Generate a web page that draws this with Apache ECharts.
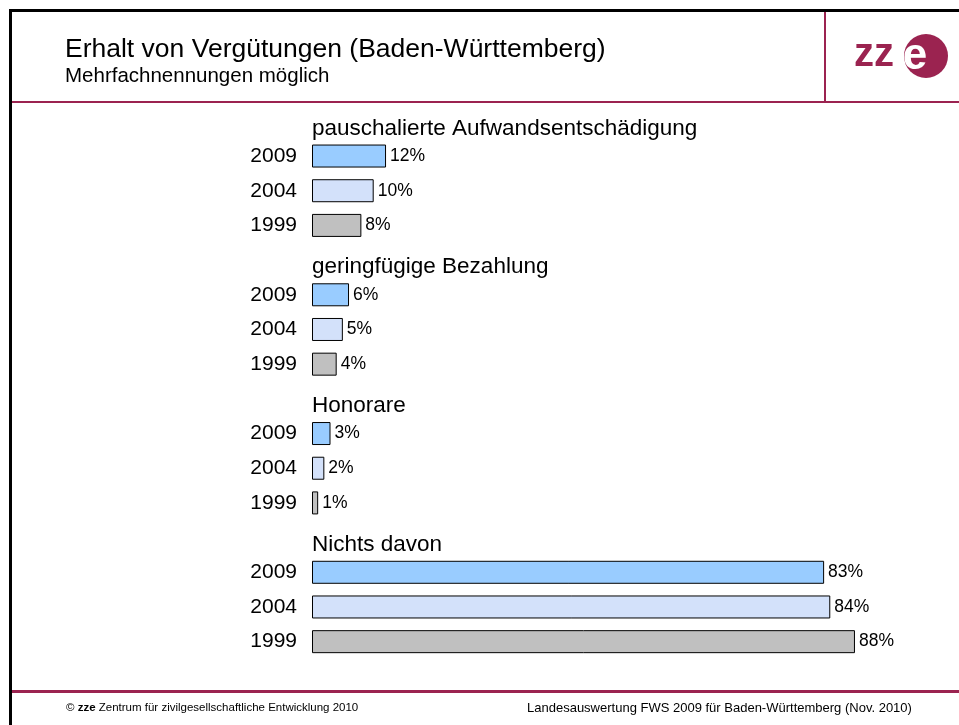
<!DOCTYPE html>
<html>
<head>
<meta charset="utf-8">
<title>Erhalt von Vergütungen</title>
<script src="https://cdn.jsdelivr.net/npm/echarts@6/dist/echarts.min.js"></script>
<style>
  html, body { margin: 0; padding: 0; background: #fff; }
  #chart { width: 959px; height: 725px; }
</style>
</head>
<body>
<div id="chart"></div>
<script>
// Daten
var groups = ['pauschalierte Aufwandsentschädigung', 'geringfügige Bezahlung', 'Honorare', 'Nichts davon'];
var years = ['2009', '2004', '1999'];
var values2009 = [12, 6, 3, 83];
var values2004 = [10, 5, 2, 84];
var values1999 = [8, 4, 1, 88];
var yearColors = ['#99CCFF', '#D3E1FA', '#C0C0C0'];

var maroon = '#9B2350';
var font = '"Liberation Sans", Arial, sans-serif';

// pro Gruppe: eine Kopfzeile + drei Jahreszeilen
var rows = [];
var barData = [];
var headData = [];
for (var g = 0; g < groups.length; g++) {
    rows.push('h' + g);
    barData.push('-');
    headData.push({ value: [0, 'h' + g], name: groups[g] });
    var vals = [values2009[g], values2004[g], values1999[g]];
    for (var y = 0; y < years.length; y++) {
        rows.push(years[y] + '_' + g);
        barData.push({ value: vals[y], itemStyle: { color: yearColors[y] } });
    }
}

var myChart = echarts.init(document.getElementById('chart'), null, { renderer: 'canvas' });

var option = {
    animation: false,
    backgroundColor: '#fff',
    textStyle: { fontFamily: font },
    title: {
        text: 'Erhalt von Vergütungen (Baden-Württemberg)',
        subtext: 'Mehrfachnennungen möglich',
        left: 60,
        top: 31,
        itemGap: 3,
        textStyle: { fontFamily: font, fontSize: 26.5, fontWeight: 'normal', color: '#000' },
        subtextStyle: { fontFamily: font, fontSize: 20.5, color: '#000' }
    },
    grid: { left: 312, right: 30, top: 104, bottom: 66, containLabel: false },
    xAxis: {
        type: 'value',
        min: 0,
        max: 100,
        show: false
    },
    yAxis: {
        type: 'category',
        data: rows,
        inverse: true,
        axisLine: { show: false },
        axisTick: { show: false },
        splitLine: { show: false },
        axisLabel: {
            margin: 15,
            fontSize: 21,
            color: '#000',
            fontFamily: font,
            formatter: function (v) {
                return v.charAt(0) === 'h' ? '' : v.split('_')[0];
            }
        }
    },
    series: [
        {
            type: 'bar',
            data: barData,
            barWidth: 23,
            itemStyle: { borderColor: '#000', borderWidth: 1 },
            label: {
                show: true,
                position: 'right',
                distance: 4,
                fontSize: 17.5,
                color: '#000',
                fontFamily: font,
                formatter: '{c}%'
            }
        },
        {
            type: 'scatter',
            data: headData,
            symbol: 'rect',
            symbolSize: 0,
            itemStyle: { color: '#000', opacity: 1 },
            silent: true,
            label: {
                show: true,
                position: 'right',
                distance: 0,
                offset: [0, 7],
                fontSize: 22.5,
                color: '#000',
                fontFamily: font,
                formatter: function (p) { return p.name; }
            }
        }
    ],
    graphic: [
        // Rahmen
        { type: 'rect', shape: { x: 9, y: 9, width: 960, height: 3 }, style: { fill: '#000' } },
        { type: 'rect', shape: { x: 9, y: 9, width: 3, height: 720 }, style: { fill: '#000' } },
        // Kopf- und Fußlinien
        { type: 'rect', shape: { x: 12, y: 101, width: 950, height: 2 }, style: { fill: maroon } },
        { type: 'rect', shape: { x: 824, y: 12, width: 2, height: 90 }, style: { fill: maroon } },
        { type: 'rect', shape: { x: 12, y: 690, width: 950, height: 3 }, style: { fill: maroon } },
        // Logo
        {
            type: 'text',
            style: {
                x: 854, y: 55, text: 'zz', fontSize: 40, fontWeight: 'bold', fill: maroon,
                fontFamily: font, align: 'left', verticalAlign: 'middle'
            }
        },
        { type: 'circle', shape: { cx: 926, cy: 56, r: 22 }, style: { fill: maroon } },
        {
            type: 'text',
            style: {
                x: 915, y: 57, text: 'e', fontSize: 44, fontWeight: 'bold', fill: '#fff',
                fontFamily: font, align: 'center', verticalAlign: 'middle'
            }
        },
        // Fußzeile
        {
            type: 'text', left: 66, top: 702,
            style: {
                text: '© {b|zze} Zentrum für zivilgesellschaftliche Entwicklung 2010',
                fontSize: 11.5, fill: '#000', fontFamily: font,
                rich: { b: { fontWeight: 'bold', fontSize: 11.5, fontFamily: font } }
            }
        },
        {
            type: 'text', left: 527, top: 702,
            style: { text: 'Landesauswertung FWS 2009 für Baden-Württemberg (Nov. 2010)', fontSize: 13, fill: '#000', fontFamily: font }
        }
    ]
};

myChart.setOption(option);

window.onresize = function () {
    myChart.resize();
};
</script>
</body>
</html>
